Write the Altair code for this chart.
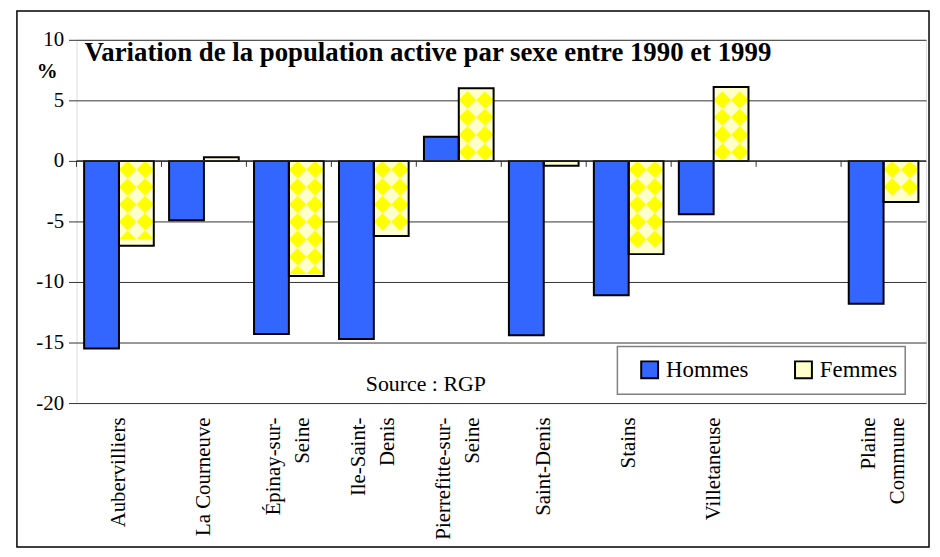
import altair as alt
import pandas as pd

# ---- data ----
communes = ["Aubervilliers", "La Courneuve", "Épinay-sur-Seine", "Ile-Saint-Denis",
            "Pierrefitte-sur-Seine", "Saint-Denis", "Stains", "Villetaneuse", "Plaine Commune"]
hommes = [-15.5, -4.9, -14.3, -14.7, 2.0, -14.4, -11.1, -4.4, -11.8]
femmes = [-7.0, 0.3, -9.5, -6.2, 6.0, -0.4, -7.7, 6.1, -3.4]
series = ["Hommes", "Femmes"]
colors = ["#3366FF", "#FFFFCC"]
axis_slots = communes[:8] + [" "] + communes[8:]
wrapped = {
    "Épinay-sur-Seine": ["Épinay-sur-", "Seine"],
    "Ile-Saint-Denis": ["Ile-Saint-", "Denis"],
    "Pierrefitte-sur-Seine": ["Pierrefitte-sur-", "Seine"],
    "Plaine Commune": ["Plaine", "Commune"],
}
y_ticks = [-20, -15, -10, -5, 0, 5, 10]
title_text = ["Variation de la population active par sexe entre 1990 et 1999"]
source_text = ["Source : RGP"]

df = pd.DataFrame({
    "commune": communes * 2,
    "sexe": [series[0]] * len(communes) + [series[1]] * len(communes),
    "valeur": hommes + femmes,
})
slots_df = pd.DataFrame({"commune": axis_slots})

# ---- layout ----
W, H = 856, 366
FONT = "Liberation Serif"
PAD_IN, PAD_OUT = 0.18, 0.09
LINE_H = 29
step = W / len(axis_slots)
bar_w = step * (1 - PAD_IN) / 2
D_px = bar_w / 2                      # diamond pattern pitch (pixels)
px_per_unit = H / 30.0
D_u = D_px / px_per_unit              # pattern pitch in data units

x_scale = alt.Scale(domain=axis_slots, paddingInner=PAD_IN, paddingOuter=PAD_OUT)
y_scale = alt.Scale(domain=[-20, 10], nice=False)
off_scale = alt.Scale(domain=series, paddingInner=0, paddingOuter=0)

label_expr = ""
for k, v in wrapped.items():
    label_expr += "datum.value == '%s' ? ['%s', '%s'] : " % (k, v[0], v[1])
label_expr += "datum.label"
wrap_test = " || ".join("datum.value == '%s'" % k for k in wrapped)

y_axis = alt.Axis(values=y_ticks, labelFont=FONT, labelFontSize=21, labelColor="black",
                  labelExpr="'' + datum.value",
                  tickSize=8, tickColor="#333333", labelPadding=5, domain=False,
                  grid=True, gridColor="#333333", gridWidth=1,
                  title="%", titleAngle=0, titleX=-30, titleY=32, titleFont=FONT,
                  titleFontSize=21, titleFontWeight="bold", titleAlign="center",
                  titleBaseline="middle", titleColor="black")

x_axis = alt.Axis(orient="bottom", title=None, labelAngle=-90, labelFont=FONT,
                  labelFontSize=21, labelColor="black", labelPadding=14, ticks=False,
                  domain=False, grid=False, labelExpr=label_expr, labelLineHeight=LINE_H,
                  labelOffset={"condition": {"test": wrap_test, "value": -LINE_H / 2},
                               "value": 0})


def X():
    return alt.X("commune:N", scale=x_scale, axis=x_axis)


def Y(field):
    return alt.Y(field, scale=y_scale, axis=y_axis)


# outer frame
frame = alt.Chart(pd.DataFrame({"a": [0]})).mark_rect(
    fillOpacity=0, stroke="black", strokeWidth=1.5
).encode(x=alt.value(-60), x2=alt.value(859), y=alt.value(-29), y2=alt.value(511))

base = alt.Chart(df)

# filled bars
bars_fill = base.mark_bar(strokeWidth=0).encode(
    x=X(),
    xOffset=alt.XOffset("sexe:N", scale=off_scale),
    y=Y("valeur:Q"),
    color=alt.Color("sexe:N", scale=alt.Scale(domain=series, range=colors),
                    legend=alt.Legend(orient="none", legendX=566, legendY=321,
                                      direction="horizontal", title=None,
                                      symbolType="square", symbolSize=289,
                                      symbolStrokeColor="black", symbolStrokeWidth=2,
                                      labelFont=FONT, labelFontSize=23, labelColor="black",
                                      labelOffset=5, columnPadding=42, padding=0)),
)

# diamond pattern over the "Femmes" bars (texture derived from the values)
fem = base.transform_filter("datum.sexe == 'Femmes'").transform_calculate(
    n=f"floor(abs(datum.valeur) / {D_u})",
    sgn="datum.valeur < 0 ? -1 : 1",
)
full_rows = fem.transform_calculate(
    rows=f"sequence(0, floor(abs(datum.valeur) / {D_u}))"
).transform_flatten(["rows"]).transform_calculate(
    yc=f"datum.sgn * ({D_u} / 2 + datum.rows * {D_u})"
)
half_rows = fem.transform_calculate(
    rem=f"abs(datum.valeur) - datum.n * {D_u}"
).transform_filter(f"datum.rem >= {D_u} / 2").transform_calculate(
    yc=f"datum.sgn * ({D_u} / 2 + datum.n * {D_u})"
)

FULL = "M-1,0L0,-1L1,0L0,1Z"
UP_HALF = "M-1,0L0,-1L1,0Z"
DOWN_HALF = "M-1,0L0,1L1,0Z"


def diamonds(src, shape, dx):
    return src.mark_point(shape=shape, filled=True, size=D_px ** 2, color="#FFFF00",
                          opacity=1, strokeWidth=0, xOffset=dx).encode(
        x=X(), y=Y("yc:Q"))


pattern = []
for dx in (D_px / 2, 3 * D_px / 2):
    pattern.append(diamonds(full_rows, FULL, dx))
    pattern.append(diamonds(half_rows.transform_filter("datum.sgn < 0"), UP_HALF, dx))
    pattern.append(diamonds(half_rows.transform_filter("datum.sgn > 0"), DOWN_HALF, dx))

# bar outlines
bars_stroke = base.mark_bar(fillOpacity=0, stroke="black", strokeWidth=2).encode(
    x=X(),
    xOffset=alt.XOffset("sexe:N", scale=off_scale),
    y=Y("valeur:Q"),
)

zero = alt.Chart(pd.DataFrame({"z": [0]})).mark_rule(color="#333333", strokeWidth=1.2).encode(
    y=Y("z:Q")
)

# category ticks on the zero line, at the band boundaries
ticks = alt.Chart(slots_df).transform_calculate(z="0").mark_rule(
    color="#333333", strokeWidth=1, xOffset=-step * PAD_OUT, y2Offset=6
).encode(
    x=alt.X("commune:N", scale=x_scale, axis=x_axis, bandPosition=0),
    y=Y("z:Q"), y2="z:Q",
)

legend_box = alt.Chart(pd.DataFrame({"a": [0]})).mark_rect(
    fill="white", stroke="#808080", strokeWidth=1.5
).encode(x=alt.value(545), x2=alt.value(835), y=alt.value(309), y2=alt.value(357))

title = alt.Chart(pd.DataFrame({"t": title_text})).mark_text(
    align="left", baseline="alphabetic", font=FONT, fontSize=27, fontWeight="bold",
    color="black"
).encode(x=alt.value(8), y=alt.value(21), text="t:N")

source = alt.Chart(pd.DataFrame({"t": source_text})).mark_text(
    align="center", baseline="alphabetic", font=FONT, fontSize=22, color="black"
).encode(x=alt.value(352), y=alt.value(354), text="t:N")

chart = alt.layer(
    frame, legend_box, bars_fill, *pattern, bars_stroke, zero, ticks, title, source
).properties(
    width=W, height=H,
    autosize=alt.AutoSizeParams(type="none"),
    padding={"left": 69, "top": 30, "right": 6, "bottom": 147},
).configure_view(
    stroke="#808080", strokeWidth=2
).configure_axis(
    labelFont=FONT, titleFont=FONT
).configure_legend(
    labelFont=FONT
).configure(background="white", font=FONT)

chart.save("out.html", embed_options={"renderer": "svg", "actions": False})
